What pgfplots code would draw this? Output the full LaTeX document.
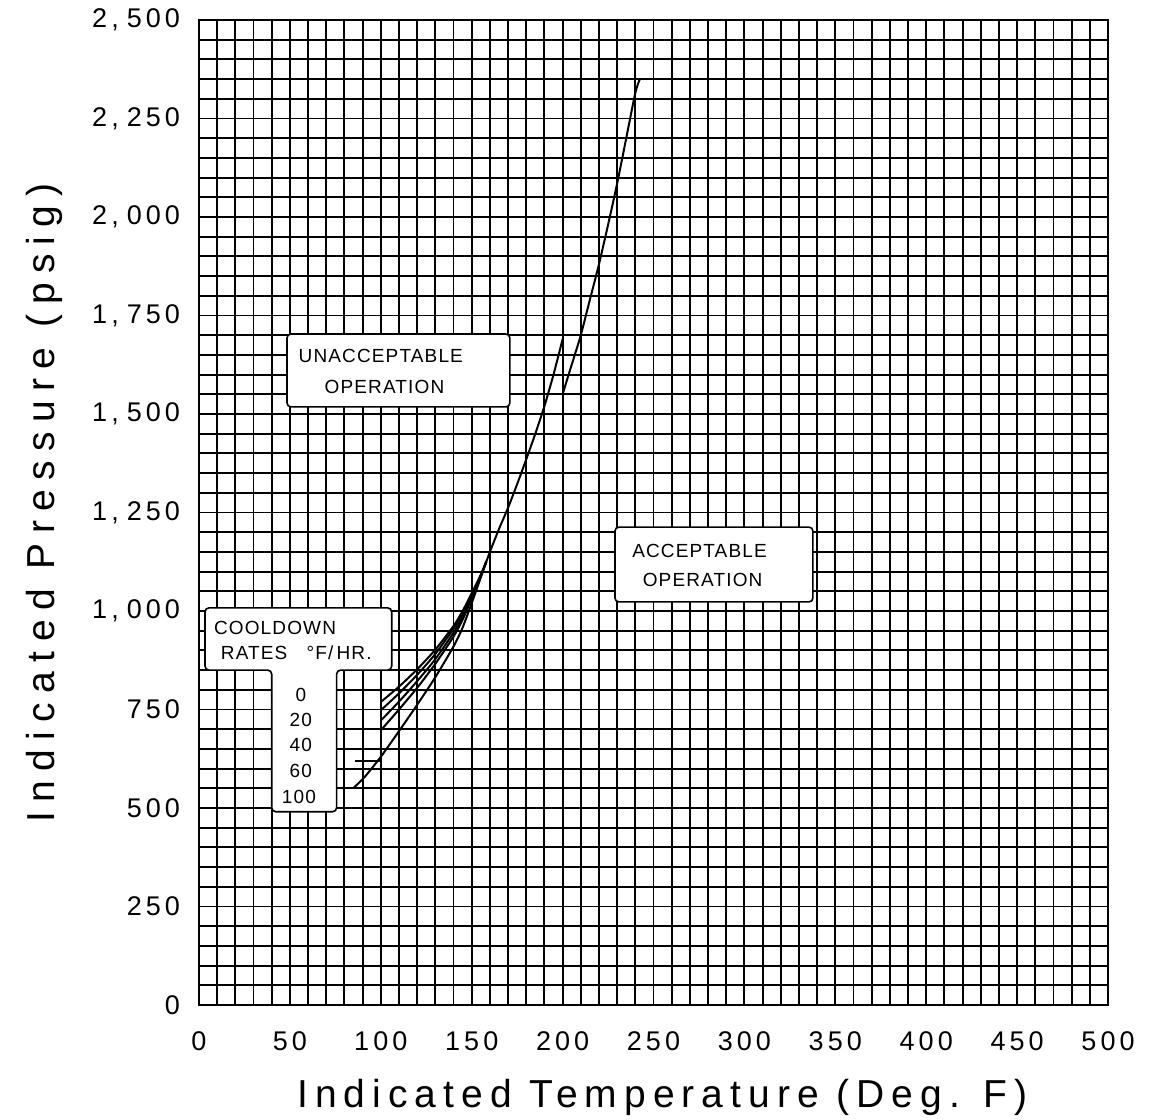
\documentclass[border=0pt]{standalone}
\usepackage{pgfplots}
\pgfplotsset{compat=1.18}
\usepackage{fontspec}
\setmainfont{Liberation Sans}
\newfontfamily\tickfont[LetterSpace=15]{Liberation Sans}
\newfontfamily\labfont[LetterSpace=18]{Liberation Sans}
\newfontfamily\ylabfont[LetterSpace=24]{Liberation Sans}
\newfontfamily\boxfont[LetterSpace=6]{Liberation Sans}

\begin{document}
\begin{tikzpicture}
\begin{axis}[
  name=ax,
  width=454.5pt, height=492.5pt, scale only axis,
  xmin=0, xmax=500, ymin=0, ymax=2500,
  xtick={0,50,...,500}, ytick={0,250,...,2500},
  minor x tick num=4, minor y tick num=4,
  grid=both,
  major grid style={black, line width=0.95pt},
  minor grid style={black, line width=0.95pt},
  major tick length=0pt, minor tick length=0pt,
  axis line style={black, line width=1.2pt},
  xticklabels={0,50,100,150,200,250,300,350,400,450,500},
  yticklabels={0,250,500,750,{1,\kern4pt000},{1,\kern4pt250},{1,\kern4pt500},{1,\kern4pt750},{2,\kern4pt000},{2,\kern4pt250},{2,\kern4pt500}},
  xticklabel style={font=\tickfont\fontsize{13.5}{15}\selectfont, yshift=-10pt},
  yticklabel style={font=\tickfont\fontsize{13.5}{15}\selectfont, xshift=-6pt},
  xlabel={Indicated Temperature (Deg. F)},
  ylabel={Indicated Pressure (psig)},
  xlabel style={font=\labfont\fontsize{19.5}{22}\selectfont, at={(axis description cs:0.51,-0.094)}, anchor=center},
  ylabel style={font=\ylabfont\fontsize{19.5}{22}\selectfont, at={(axis description cs:-0.17,0.51)}, anchor=center},
]
% cooldown 0 F/hr and the common limit curve
\addplot[black, line width=1pt, smooth, tension=0.4] coordinates {
(100,769) (110,808) (120,852) (130,902) (140,962) (145,1000) (150,1045) (155,1092) (158,1125)
(160,1150) (165,1208) (170,1262) (175,1322) (180,1385) (185,1450) (190,1520) (195,1600) (200,1690)};
% 20
\addplot[black, line width=1pt, smooth, tension=0.4] coordinates {
(100,748) (110,791) (120,838) (130,891) (140,955) (145,994) (150,1041) (155,1091) (158,1125)};
% 40
\addplot[black, line width=1pt, smooth, tension=0.4] coordinates {
(100,722) (110,770) (120,822) (130,878) (140,945) (145,986) (150,1036) (155,1089) (158,1125)};
% 60
\addplot[black, line width=1pt, smooth, tension=0.4] coordinates {
(100,697) (110,750) (120,805) (130,866) (140,935) (145,978) (150,1032) (155,1088) (158,1125)};
% 100
\addplot[black, line width=1pt, smooth, tension=0.4] coordinates {
(85,551) (91,578) (100,630) (110,695) (120,762) (130,832) (140,910) (145,958) (150,1020) (155,1085) (158,1125)};
% 60 F/hr horizontal segment and vertical at 100 F
\addplot[black, line width=1pt] coordinates {(86,619) (100,619)};
\addplot[black, line width=1pt] coordinates {(100,619) (100,769)};
% step at 200 F and upper branch
\addplot[black, line width=1pt] coordinates {(200,1690) (200,1550)};
\addplot[black, line width=1pt, smooth, tension=0.4] coordinates {
(200,1550) (205,1625) (210,1700) (215,1790) (220,1880) (225,1980) (230,2085) (235,2200) (240,2315) (242.5,2350)};

% annotation boxes
\draw[fill=white, line width=0.8pt, rounded corners=2pt] (axis cs:48.4,1518) rectangle (axis cs:171,1703);
\node[font=\boxfont\fontsize{9.5}{11}\selectfont] at (axis cs:100,1647) {UNACCEPTABLE};
\node[font=\boxfont\fontsize{9.5}{11}\selectfont] at (axis cs:102,1569) {OPERATION};

\draw[fill=white, line width=0.8pt, rounded corners=2pt] (axis cs:228.8,1023) rectangle (axis cs:337.7,1213);
\node[font=\boxfont\fontsize{9.5}{11}\selectfont] at (axis cs:275.3,1152) {ACCEPTABLE};
\node[font=\boxfont\fontsize{9.5}{11}\selectfont] at (axis cs:277,1079) {OPERATION};

\draw[fill=white, line width=0.8pt, rounded corners=2pt]
  (axis cs:3.3,1008) -- (axis cs:106,1008) -- (axis cs:106,850) -- (axis cs:75.7,850)
  -- (axis cs:75.7,490.6) -- (axis cs:40,490.6) -- (axis cs:40,850) -- (axis cs:3.3,850) -- cycle;
\node[font=\boxfont\fontsize{9.5}{11}\selectfont] at (axis cs:41.8,957) {COOLDOWN};
\node[font=\boxfont\fontsize{9.5}{11}\selectfont] at (axis cs:53.5,895) {RATES\ \ \ °F/\,HR.};
\node[font=\boxfont\fontsize{9.5}{11}\selectfont] at (axis cs:56,787) {0};
\node[font=\boxfont\fontsize{9.5}{11}\selectfont] at (axis cs:56,724) {20};
\node[font=\boxfont\fontsize{9.5}{11}\selectfont] at (axis cs:56,659) {40};
\node[font=\boxfont\fontsize{9.5}{11}\selectfont] at (axis cs:56,594) {60};
\node[font=\boxfont\fontsize{9.5}{11}\selectfont] at (axis cs:55,529) {100};
\end{axis}
\pgfresetboundingbox
\path ([xshift=-99.5pt,yshift=-57pt]ax.south west) rectangle ([xshift=20.5pt,yshift=10pt]ax.north east);
\end{tikzpicture}
\end{document}
